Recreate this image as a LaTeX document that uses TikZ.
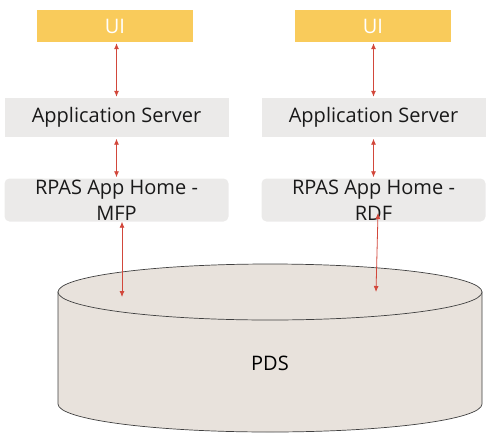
\documentclass[tikz,border=0pt]{standalone}
\usepackage{fontspec}
\setmainfont{Open Sans}
\usetikzlibrary{arrows.meta}
\definecolor{uiyellow}{HTML}{F9CB5B}
\definecolor{boxgray}{HTML}{EBEAE9}
\definecolor{dbfill}{HTML}{E8E2DC}
\definecolor{linkred}{HTML}{D2473B}
\tikzset{
    ui/.style={fill=uiyellow, text=white, minimum width=156pt, minimum height=32pt, inner sep=0pt},
    srv/.style={fill=boxgray, text=black!90, minimum width=224pt, minimum height=39pt, inner sep=0pt},
    home/.style={srv, rounded corners=5pt, minimum height=43pt, align=center},
    link/.style={linkred, line width=0.8pt, {Latex[length=6pt,width=5pt]}-{Latex[length=6pt,width=5pt]}}
}
\begin{document}
\begin{tikzpicture}[x=1pt, y=-1pt, font=\fontsize{20}{26}\selectfont]
    \useasboundingbox (0,0) rectangle (492,439);
    \node[ui] (ui1) at (115,26) {UI};
    \node[ui] (ui2) at (373,26) {UI};
    \node[srv] (as1) at (116.5,117.5) {Application Server};
    \node[srv] (as2) at (373.5,117.5) {Application Server};
    \node[home] (rp1) at (116.5,200) {RPAS App Home -\\MFP};
    \node[home] (rp2) at (373.5,200) {RPAS App Home -\\RDF};
    \filldraw[fill=dbfill, draw=black!75, line width=0.7pt] (58,292) -- (58,404)
        arc[start angle=180, end angle=360, x radius=212pt, y radius=28pt] -- (482,292) -- cycle;
    \filldraw[fill=dbfill, draw=black!75, line width=0.7pt] (270,292) ellipse[x radius=212pt, y radius=28pt];
    \node (pds) at (270,363) {PDS};
    \coordinate (d1) at (122,297);
    \coordinate (u2) at (378,213);
    \coordinate (d2) at (376,292);
    \draw[link] ([yshift=-1pt]ui1.south -| as1) -- ([yshift=1pt]as1.north);
    \draw[link] ([yshift=-1pt]ui2.south -| as2) -- ([yshift=1pt]as2.north);
    \draw[link] ([yshift=-1.5pt]as1.south) -- ([yshift=1pt]rp1.north);
    \draw[link] ([yshift=-1.5pt]as2.south) -- ([yshift=1pt]rp2.north);
    \draw[link] (rp1.south -| d1) -- (d1);
    \draw[link] (u2) -- (d2);
\end{tikzpicture}
\end{document}
